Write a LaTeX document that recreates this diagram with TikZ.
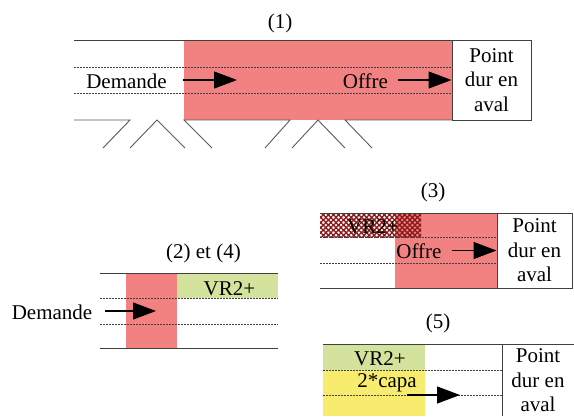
\documentclass[tikz,border=0pt]{standalone}
\usepackage{fontspec}
\setmainfont{Liberation Serif}
\newfontfamily\diagfont{Liberation Serif}
\usetikzlibrary{arrows.meta,patterns.meta}
\definecolor{pinkfill}{HTML}{F28282}
\definecolor{greenfill}{HTML}{D3E39E}
\definecolor{yellowfill}{HTML}{F7EC6E}
\definecolor{linegray}{HTML}{404040}
\definecolor{rampgray}{HTML}{5A5A5A}
\definecolor{hatchred}{HTML}{8B1A1A}
\begin{document}
\begin{tikzpicture}[x=1pt,y=-1pt,
  lbl/.style={inner sep=0pt, anchor=base, font=\diagfont\fontsize{21}{24.5}\selectfont},
  pdtext/.style={inner sep=0pt, align=center, font=\diagfont\fontsize{21}{24.5}\selectfont},
  pdbox/.style={pdtext, draw=linegray, line width=1pt},
  rule/.style={draw=linegray, line width=1pt},
  ramp/.style={draw=rampgray, line width=0.9pt},
  dotline/.style={draw=linegray, line width=0.8pt, dash pattern=on 1.5pt off 1.5pt},
  flow/.style={-{Triangle[length=23pt,width=17pt]}, line width=1.2pt, black},
  hatchA/.style={pattern={Lines[angle=45,distance=3.6pt,line width=1.4pt]}, pattern color=hatchred},
  hatchB/.style={pattern={Lines[angle=-45,distance=3.6pt,line width=1.4pt]}, pattern color=hatchred},
]
\useasboundingbox (0,0) rectangle (574,416);

% ---------- (1)
\fill[pinkfill] (184,40) rectangle (452,120);
\draw[dotline] (74,67) -- (452,67);
\draw[dotline] (74,93) -- (452,93);
\draw[rule] (74,40) -- (452,40);
\node[pdbox, minimum width=79pt, minimum height=80pt] (pd1) at (491.5,80) {Point\\dur en\\aval};
\draw[ramp] (74,120) -- (130,120) -- (103,148);
\draw[ramp] (130,148) -- (157,120) -- (185,148);
\draw[ramp] (212,148) -- (184,120) -- (290,120) -- (265,148);
\draw[ramp] (292,148) -- (318,120) -- (345,148);
\draw[ramp] (372,148) -- (345,120) -- (452,120);
\node[lbl] (t1) at (280,28) {(1)};
\node[lbl] (dem1) at (126.5,88) {Demande};
\coordinate (a1s) at (183,80);
\coordinate (a1e) at (237,80);
\draw[flow] (a1s) -- (a1e);
\node[lbl] (off1) at (365.5,88) {Offre};
\coordinate (a2s) at (398,80);
\draw[flow] (a2s) -- (pd1.west);

% ---------- (2) et (4)
\fill[pinkfill] (126,273) rectangle (177,348);
\fill[greenfill] (177,273) rectangle (278,298);
\draw[dotline] (100,298) -- (278,298);
\draw[dotline] (100,324) -- (278,324);
\draw[rule] (100,273) -- (278,273);
\draw[rule] (100,348) -- (278,348);
\node[lbl] (t2) at (203.5,258) {(2) et (4)};
\node[lbl] (vr2) at (229.5,295) {VR2+};
\node[lbl] (dem2) at (52,319) {Demande};
\coordinate (b1s) at (105,311);
\coordinate (b1e) at (156,311);
\draw[flow] (b1s) -- (b1e);

% ---------- (3)
\fill[pinkfill] (395,213) rectangle (497,288);
\fill[hatchA] (320,213) rectangle (421,237);
\fill[hatchB] (320,213) rectangle (421,237);
\draw[dotline] (320,237) -- (497,237);
\draw[dotline] (320,263) -- (497,263);
\draw[rule] (320,213) -- (497,213);
\draw[rule] (320,288) -- (497,288);
\node[pdbox, minimum width=75pt, minimum height=75pt] (pd3) at (534.5,250.5) {Point\\dur en\\aval};
\node[lbl] (t3) at (433,197) {(3)};
\node[lbl] (vr3) at (373,233) {VR2+};
\node[lbl] (off3) at (419,258) {Offre};
\coordinate (c1s) at (452,250.5);
\draw[flow] (c1s) -- (pd3.west);

% ---------- (5)
\fill[greenfill] (323,344) rectangle (425,370);
\fill[yellowfill] (323,370) rectangle (425,416);
\draw[dotline] (323,370) -- (502,370);
\draw[dotline] (323,395) -- (502,395);
\draw[rule] (323,344) -- (574,344);
\coordinate (e1t) at (502,344);
\coordinate (e1b) at (502,416);
\draw[rule] (e1t) -- (e1b);
\node[pdtext] (pd5) at (538,380.5) {Point\\dur en\\aval};
\node[lbl] (t5) at (438,328) {(5)};
\node[lbl] (vr5) at (380,365) {VR2+};
\node[lbl] (cap5) at (387,387) {2*capa};
\coordinate (d1s) at (407,395);
\coordinate (d1e) at (460,395);
\draw[flow] (d1s) -- (d1e);
\end{tikzpicture}
\end{document}
